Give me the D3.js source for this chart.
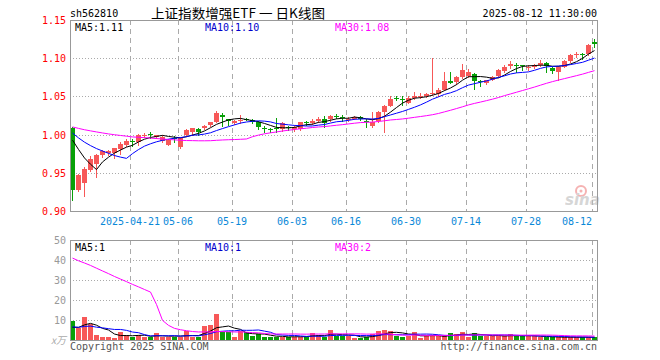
<!DOCTYPE html>
<html lang="zh">
<head>
<meta charset="UTF-8">
<title>sh562810 日K线图</title>
<script src="https://d3js.org/d3.v7.min.js"></script>
<style>
  body { margin: 0; background: #fff; }
  svg text { font-family: "DejaVu Sans Mono", "Liberation Mono", monospace; font-size: 10px; }
  .frame { fill: none; stroke: #999; shape-rendering: crispEdges; }
  .grid-h { stroke: #aaa; stroke-dasharray: 1,2; shape-rendering: crispEdges; }
  .grid-v { stroke: #aaa; stroke-dasharray: 5,4; shape-rendering: crispEdges; }
</style>
</head>
<body>
<svg id="chart" width="660" height="360"></svg>
<script>
// ---- data ----
const dates = [
  "2025-04-07","2025-04-08","2025-04-09","2025-04-10","2025-04-11","2025-04-14","2025-04-15","2025-04-16","2025-04-17","2025-04-18",
  "2025-04-21","2025-04-22","2025-04-23","2025-04-24","2025-04-25","2025-04-28","2025-04-29","2025-04-30","2025-05-06","2025-05-07",
  "2025-05-08","2025-05-09","2025-05-12","2025-05-13","2025-05-14","2025-05-15","2025-05-16","2025-05-19","2025-05-20","2025-05-21",
  "2025-05-22","2025-05-23","2025-05-26","2025-05-27","2025-05-28","2025-05-29","2025-05-30","2025-06-03","2025-06-04","2025-06-05",
  "2025-06-06","2025-06-09","2025-06-10","2025-06-11","2025-06-12","2025-06-13","2025-06-16","2025-06-17","2025-06-18","2025-06-19",
  "2025-06-20","2025-06-23","2025-06-24","2025-06-25","2025-06-26","2025-06-27","2025-06-30","2025-07-01","2025-07-02","2025-07-03",
  "2025-07-04","2025-07-07","2025-07-08","2025-07-09","2025-07-10","2025-07-11","2025-07-14","2025-07-15","2025-07-16","2025-07-17",
  "2025-07-18","2025-07-21","2025-07-22","2025-07-23","2025-07-24","2025-07-25","2025-07-28","2025-07-29","2025-07-30","2025-07-31",
  "2025-08-01","2025-08-04","2025-08-05","2025-08-06","2025-08-07","2025-08-08","2025-08-11","2025-08-12"
];
const open = [
  1.008,0.928,0.936,0.954,0.961,0.973,0.976,0.976,0.981,0.986,
  0.991,0.990,0.999,1.001,0.997,0.992,0.987,0.996,0.984,1.000,
  1.003,1.007,1.009,1.013,1.016,1.026,1.020,1.015,1.018,1.021,
  1.019,1.016,1.008,1.007,1.008,1.007,1.010,1.007,1.007,1.016,
  1.015,1.018,1.021,1.021,1.025,1.023,1.019,1.021,1.023,1.018,
  1.011,1.018,1.029,1.038,1.048,1.046,1.042,1.048,1.050,1.050,
  1.053,1.053,1.059,1.070,1.069,1.075,1.077,1.079,1.070,1.068,
  1.072,1.077,1.083,1.090,1.091,1.091,1.088,1.088,1.091,1.094,
  1.087,1.082,1.089,1.096,1.104,1.106,1.105,1.121
];
const high = [
  1.010,0.948,0.958,0.972,0.975,0.980,0.980,0.983,0.990,0.994,
  0.994,1.001,1.002,1.003,1.000,0.999,0.994,0.998,0.996,1.007,
  1.009,1.008,1.013,1.017,1.031,1.028,1.021,1.019,1.026,1.022,
  1.020,1.018,1.011,1.008,1.022,1.016,1.011,1.012,1.017,1.018,
  1.020,1.023,1.025,1.026,1.027,1.026,1.023,1.025,1.025,1.021,
  1.029,1.031,1.039,1.051,1.050,1.050,1.050,1.056,1.054,1.055,
  1.100,1.061,1.082,1.082,1.077,1.092,1.086,1.080,1.071,1.072,
  1.077,1.086,1.091,1.096,1.094,1.091,1.091,1.092,1.097,1.095,
  1.089,1.090,1.097,1.105,1.108,1.107,1.118,1.125
];
const low = [
  0.915,0.926,0.920,0.952,0.944,0.971,0.973,0.969,0.975,0.985,
  0.985,0.986,0.997,0.996,0.996,0.990,0.986,0.990,0.982,0.998,
  0.999,1.000,1.007,1.011,1.016,1.011,1.013,1.014,1.015,1.019,
  1.015,1.007,1.004,1.004,1.003,1.005,1.006,1.005,1.006,1.013,
  1.014,1.017,1.010,1.018,1.022,1.018,1.018,1.020,1.019,1.010,
  1.010,1.017,1.003,1.037,1.045,1.039,1.041,1.047,1.048,1.049,
  1.052,1.051,1.058,1.067,1.066,1.074,1.076,1.060,1.064,1.066,
  1.071,1.076,1.082,1.087,1.082,1.084,1.085,1.087,1.090,1.082,
  1.080,1.072,1.088,1.095,1.101,1.099,1.104,1.115
];
const close = [
  0.928,0.947,0.955,0.968,0.973,0.978,0.978,0.982,0.988,0.992,
  0.990,1.000,1.000,0.999,0.999,0.997,0.993,0.995,0.995,1.006,
  1.008,1.004,1.011,1.016,1.028,1.023,1.018,1.018,1.019,1.020,
  1.017,1.010,1.007,1.006,1.007,1.015,1.009,1.010,1.016,1.015,
  1.018,1.021,1.015,1.025,1.024,1.022,1.021,1.023,1.020,1.017,
  1.016,1.029,1.038,1.047,1.047,1.045,1.048,1.051,1.051,1.053,
  1.055,1.059,1.070,1.068,1.075,1.084,1.082,1.070,1.069,1.071,
  1.076,1.085,1.089,1.092,1.090,1.090,1.089,1.091,1.094,1.090,
  1.083,1.089,1.096,1.104,1.105,1.105,1.117,1.119
];
// volume, 万手
const volume = [
  9.7,5.8,11.3,7.8,2.5,1.7,1.7,1.2,4.0,2.5,
  1.3,2.5,1.7,1.3,3.7,1.3,1.7,1.7,1.5,4.5,
  1.7,1.7,7.0,7.5,12.8,3.8,3.8,1.7,4.5,3.8,
  2.0,3.2,1.3,1.7,1.3,1.7,1.7,1.7,1.7,1.7,
  3.3,2.5,1.7,5.0,2.0,2.0,2.0,1.0,1.0,1.5,
  3.0,4.7,5.0,4.5,2.0,1.5,2.0,4.0,1.0,2.0,
  2.0,2.0,2.0,3.3,3.0,4.0,1.5,3.3,2.0,2.0,
  2.0,2.0,2.0,2.8,2.0,2.0,2.0,2.0,1.4,1.4,
  1.3,1.4,1.5,1.4,1.3,1.4,1.4,1.3
];
// the 29 sessions before the window, only used for the moving averages
const priorClose = [
  1.005,1.008,1.012,1.015,1.018,1.016,1.014,1.017,1.020,1.019,
  1.015,1.013,1.016,1.018,1.014,1.012,1.010,1.013,1.015,1.012,
  1.010,1.011,1.013,1.012,1.010,1.008,1.011,1.009,1.008
];
const priorVolume = [
  46,45,44,44,43,42,44,43,41,42,
  40,41,40,190,240,76,47,22,19,14,
  8,7,6,8,5,6,5,4,7
];
const priceTicks = [0.90, 0.95, 1.00, 1.05, 1.10, 1.15];
const volTicks = [10, 20, 30, 40, 50];
const tickDates = ["2025-04-21","2025-05-06","2025-05-19","2025-06-03","2025-06-16","2025-06-30","2025-07-14","2025-07-28","2025-08-12"];

// ---- setup ----
const svg = d3.select("svg#chart");
const plot = {left: 70, right: 597, top: 20, bottom: 211};
const volPlot = {top: 240, bottom: 340};

const RED = "#f75858", GREEN = "#08a008";
const lineColors = {5: "#000000", 10: "#0000ff", 30: "#ff00ff"};

const x = d3.scaleBand().domain(dates).range([70, 598]).padding(0);
const y = d3.scaleLinear().domain([0.90, 1.15]).range([plot.bottom, plot.top]);
const yVol = d3.scaleLinear().domain([0, 50]).range([volPlot.bottom, volPlot.top]);

// moving averages
const movingAvg = function(all, n, offset) {
  return d3.range(offset, all.length).map(k => d3.mean(all.slice(k - n + 1, k + 1)));
};
const allClose = priorClose.concat(close);
const allVol = priorVolume.concat(volume);
const priceMA = {}, volMA = {};
[5, 10, 30].forEach(n => {
  priceMA[n] = movingAvg(allClose, n, priorClose.length);
  volMA[n] = movingAvg(allVol, n, priorVolume.length);
});

const bars = dates.map((d, i) => ({date: d, o: open[i], h: high[i], l: low[i], c: close[i], v: volume[i]}));
const up = d => d.c >= d.o;

// ---- header ----
svg.append("text").attr("x", 70).attr("y", 17).attr("fill", "#000").text("sh562810");
svg.append("text").attr("x", 151).attr("y", 18)
  .style("font-family", '"Noto Sans CJK SC", sans-serif').style("font-size", "13px")
  .attr("textLength", 174).attr("lengthAdjust", "spacingAndGlyphs")
  .attr("fill", "#000").text("上证指数增强ETF 一 日K线图");
svg.append("text").attr("x", 597).attr("y", 17).attr("text-anchor", "end").attr("fill", "#000")
  .text("2025-08-12 11:30:00");

// ---- grids ----
const grid = svg.append("g");
grid.selectAll("line.ph").data(priceTicks.slice(1, -1)).join("line")
  .attr("class", "grid-h")
  .attr("x1", plot.left).attr("x2", plot.right)
  .attr("y1", d => Math.round(y(d)) + 0.5).attr("y2", d => Math.round(y(d)) + 0.5);
grid.selectAll("line.vh").data(volTicks.slice(0, -1)).join("line")
  .attr("class", "grid-h")
  .attr("x1", plot.left).attr("x2", plot.right)
  .attr("y1", d => Math.round(yVol(d)) + 0.5).attr("y2", d => Math.round(yVol(d)) + 0.5);
[[plot.top, plot.bottom], [volPlot.top, volPlot.bottom]].forEach(([t, b]) => {
  grid.append("g").selectAll("line").data(tickDates).join("line")
    .attr("class", "grid-v")
    .attr("x1", d => x(d) + 0.5).attr("x2", d => x(d) + 0.5)
    .attr("y1", t).attr("y2", b);
});

// ---- price axis labels ----
svg.append("g").selectAll("text").data(priceTicks).join("text")
  .attr("x", 66).attr("y", d => y(d) + 4)
  .attr("text-anchor", "end").attr("fill", "#ff0000")
  .text(d => d.toFixed(2));

// ---- date labels ----
svg.append("g").selectAll("text").data(tickDates).join("text")
  .attr("x", (d, i) => {
    const label = i === 0 ? d : d.slice(5);
    const half = label.length * 3;
    return Math.min(x(d), 592 - half);
  })
  .attr("y", 225)
  .attr("text-anchor", "middle").attr("fill", "#0a88d8")
  .text((d, i) => i === 0 ? d : d.slice(5));

// ---- volume axis labels ----
svg.append("g").selectAll("text").data(volTicks).join("text")
  .attr("x", 66).attr("y", d => yVol(d) + 4)
  .attr("text-anchor", "end").attr("fill", "#999")
  .text(d => d);
svg.append("text").attr("x", 66).attr("y", volPlot.bottom + 4)
  .attr("text-anchor", "end").attr("fill", "#aaa")
  .style("font-family", '"Noto Sans CJK SC", sans-serif').style("font-style", "italic")
  .text("x万");

// ---- sina watermark ----
const logo = svg.append("g").attr("opacity", 0.6);
logo.append("circle").attr("cx", 581).attr("cy", 191).attr("r", 5)
  .attr("fill", "none").attr("stroke", "#f08080").attr("stroke-width", 2);
logo.append("circle").attr("cx", 581).attr("cy", 191).attr("r", 1.5).attr("fill", "#f08080");
logo.append("text").attr("x", 565).attr("y", 205)
  .style("font-family", "Verdana, 'DejaVu Sans', sans-serif").style("font-size", "15px")
  .style("font-style", "italic").style("font-weight", "bold")
  .attr("fill", "#bbb").text("sina");

// ---- candles ----
const candles = svg.append("g").attr("shape-rendering", "crispEdges");
candles.selectAll("line").data(bars).join("line")
  .attr("x1", d => x(d.date) + 2.5).attr("x2", d => x(d.date) + 2.5)
  .attr("y1", d => Math.round(y(d.h))).attr("y2", d => Math.round(y(d.l)) + 1)
  .attr("stroke", d => up(d) ? RED : GREEN);
candles.selectAll("rect").data(bars).join("rect")
  .attr("x", d => x(d.date)).attr("width", 5)
  .attr("y", d => Math.round(y(Math.max(d.o, d.c))))
  .attr("height", d => Math.max(1, Math.round(y(Math.min(d.o, d.c))) - Math.round(y(Math.max(d.o, d.c)))))
  .attr("fill", d => up(d) ? RED : GREEN);

// ---- volume bars ----
svg.append("g").attr("shape-rendering", "crispEdges")
  .selectAll("rect").data(bars).join("rect")
  .attr("x", d => x(d.date)).attr("width", 5)
  .attr("y", d => Math.round(yVol(d.v)))
  .attr("height", d => volPlot.bottom - Math.round(yVol(d.v)) + 1)
  .attr("fill", d => up(d) ? RED : GREEN);

// ---- moving average lines ----
[5, 10, 30].forEach(n => {
  const priceLine = d3.line().x((v, i) => x(dates[i]) + 2.5).y(v => y(v));
  svg.append("path").attr("d", priceLine(priceMA[n]))
    .attr("fill", "none").attr("stroke", lineColors[n]).attr("stroke-width", 1);
  const volLine = d3.line().x((v, i) => x(dates[i]) + 2.5).y(v => yVol(v));
  svg.append("path").attr("d", volLine(volMA[n]))
    .attr("fill", "none").attr("stroke", lineColors[n]).attr("stroke-width", 1);
});

// ---- frames ----
svg.append("rect").attr("class", "frame")
  .attr("x", plot.left + 0.5).attr("y", plot.top + 0.5)
  .attr("width", plot.right - plot.left).attr("height", plot.bottom - plot.top);
svg.append("rect").attr("class", "frame")
  .attr("x", plot.left + 0.5).attr("y", volPlot.top + 0.5)
  .attr("width", plot.right - plot.left).attr("height", volPlot.bottom - volPlot.top);

// ---- MA legends ----
const last = dates.length - 1;
const legendX = {5: 75, 10: 205, 30: 335};
[5, 10, 30].forEach(n => {
  svg.append("text").attr("x", legendX[n]).attr("y", 31).attr("fill", lineColors[n] === "#0000ff" ? "#0000cc" : lineColors[n])
    .text(`MA${n}:${priceMA[n][last].toFixed(2)}`);
  svg.append("text").attr("x", legendX[n]).attr("y", 251).attr("fill", lineColors[n] === "#0000ff" ? "#0000cc" : lineColors[n])
    .text(`MA${n}:${Math.round(volMA[n][last])}`);
});

// ---- footer ----
svg.append("text").attr("x", 70).attr("y", 350).attr("fill", "#555").text("Copyright 2025 SINA.COM");
svg.append("text").attr("x", 597).attr("y", 350).attr("text-anchor", "end").attr("fill", "#555")
  .text("http://finance.sina.com.cn");
</script>
</body>
</html>
